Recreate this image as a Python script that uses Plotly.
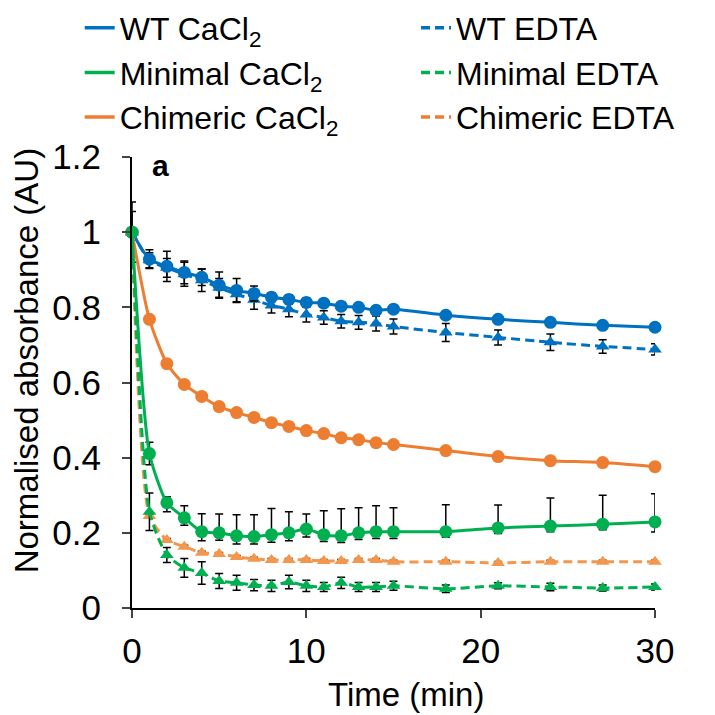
import plotly.graph_objects as go

# time points (min)
time_min = [0, 1, 2, 3, 4, 5, 6, 7, 8, 9, 10, 11, 12, 13, 14, 15, 18, 21, 24, 27, 30]

wt_cacl2 = [1.0, 0.928, 0.909, 0.893, 0.88, 0.859, 0.845, 0.837, 0.827, 0.821, 0.813,
            0.811, 0.803, 0.80, 0.792, 0.795, 0.779, 0.768, 0.76, 0.752, 0.747]
wt_cacl2_err = [0.0, 0.025, 0.04, 0.03, 0.022, 0.035, 0.032, 0.02, 0.012, 0.012, 0.012,
                0.01, 0.01, 0.01, 0.01, 0.01, 0.008, 0.008, 0.008, 0.006, 0.006]

wt_edta = [1.0, 0.925, 0.905, 0.888, 0.872, 0.852, 0.835, 0.82, 0.805, 0.795, 0.781,
           0.773, 0.763, 0.76, 0.757, 0.749, 0.733, 0.72, 0.707, 0.696, 0.688]
wt_edta_err = [0.08, 0.02, 0.025, 0.032, 0.03, 0.025, 0.02, 0.025, 0.02, 0.02, 0.02,
               0.018, 0.018, 0.018, 0.02, 0.02, 0.024, 0.02, 0.022, 0.018, 0.015]

min_cacl2 = [1.0, 0.411, 0.28, 0.24, 0.203, 0.2, 0.192, 0.19, 0.195, 0.2, 0.21,
             0.195, 0.192, 0.2, 0.203, 0.203, 0.203, 0.213, 0.218, 0.223, 0.229]
min_cacl2_up = [0.055, 0.03, 0.016, 0.032, 0.048, 0.05, 0.056, 0.058, 0.07, 0.056, 0.04,
                0.064, 0.072, 0.067, 0.069, 0.064, 0.072, 0.061, 0.075, 0.077, 0.075]
min_cacl2_dn = [0.0, 0.03, 0.024, 0.02, 0.024, 0.02, 0.022, 0.02, 0.02, 0.021, 0.021,
                0.018, 0.018, 0.018, 0.018, 0.018, 0.015, 0.015, 0.015, 0.015, 0.027]

min_edta = [1.0, 0.256, 0.141, 0.107, 0.093, 0.072, 0.067, 0.061, 0.059, 0.069, 0.059,
            0.056, 0.067, 0.056, 0.056, 0.059, 0.051, 0.059, 0.056, 0.053, 0.056]
min_edta_err = [0.0, 0.05, 0.02, 0.025, 0.03, 0.02, 0.02, 0.015, 0.015, 0.018, 0.015,
                0.012, 0.015, 0.012, 0.012, 0.012, 0.01, 0.008, 0.01, 0.008, 0.008]

chim_cacl2 = [1.0, 0.768, 0.65, 0.595, 0.563, 0.536, 0.52, 0.507, 0.493, 0.483, 0.472,
              0.464, 0.453, 0.448, 0.44, 0.435, 0.419, 0.403, 0.392, 0.387, 0.376]
chim_cacl2_err = [0.0] + [0.004] * 20

chim_edta = [1.0, 0.245, 0.181, 0.163, 0.147, 0.144, 0.136, 0.131, 0.128, 0.128, 0.128,
             0.125, 0.125, 0.128, 0.128, 0.123, 0.123, 0.12, 0.123, 0.123, 0.123]
chim_edta_err = [0.0] + [0.004] * 20

BLUE = "#0070C0"
GREEN = "#00B050"
ORANGE = "#ED7D31"
LIGHT_ORANGE = "#F4964B"
FONT = "Liberation Sans, Arial, sans-serif"
DASH = "9px,5px"


def err(plus, minus=None):
    e = dict(type="data", array=plus, color="black", thickness=1.5, width=4, visible=True)
    if minus is not None:
        e.update(symmetric=False, arrayminus=minus)
    return e


def series(y, color, symbol, dash, error):
    return go.Scatter(
        x=time_min, y=y, mode="lines+markers", showlegend=False, cliponaxis=False,
        line=dict(color=color, width=3, dash=dash, shape="spline", smoothing=0.6),
        marker=dict(color=color, symbol=symbol, size=13 if symbol == "circle" else 12),
        error_y=error,
    )


fig = go.Figure()
# EDTA series first, CaCl2 on top
fig.add_trace(series(wt_edta, BLUE, "triangle-up", DASH, err(wt_edta_err)))
fig.add_trace(series(chim_edta, LIGHT_ORANGE, "triangle-up", DASH, err(chim_edta_err)))
fig.add_trace(series(min_edta, GREEN, "triangle-up", DASH, err(min_edta_err)))
fig.add_trace(series(wt_cacl2, BLUE, "circle", "solid", err(wt_cacl2_err)))
fig.add_trace(series(chim_cacl2, ORANGE, "circle", "solid", err(chim_cacl2_err)))
fig.add_trace(series(min_cacl2, GREEN, "circle", "solid", err(min_cacl2_up, min_cacl2_dn)))

# legend entries (lines only); a single point in "lines" mode draws nothing on the axes
legend_items = [
    ("WT CaCl<sub>2</sub>", BLUE, "solid", "legend"),
    ("Minimal CaCl<sub>2</sub>", GREEN, "solid", "legend"),
    ("Chimeric CaCl<sub>2</sub>", ORANGE, "solid", "legend"),
    ("WT EDTA", BLUE, DASH, "legend2"),
    ("Minimal EDTA", GREEN, DASH, "legend2"),
    ("Chimeric EDTA", ORANGE, DASH, "legend2"),
]
for name, color, dash, leg in legend_items:
    fig.add_trace(go.Scatter(
        x=[time_min[0]], y=[wt_cacl2[0]], mode="lines", name=name, legend=leg,
        line=dict(color=color, width=3.5, dash=dash), hoverinfo="skip",
    ))

legend_style = dict(
    yanchor="top", y=1.347, xanchor="left",
    bgcolor="rgba(0,0,0,0)", font=dict(family=FONT, size=32, color="black"),
    tracegroupgap=0, itemwidth=30,
)

# the page body adds an 8px offset, so margins are shifted by that amount
fig.update_layout(
    width=715, height=715,
    margin=dict(l=124, r=68, t=149, b=115, autoexpand=False),
    paper_bgcolor="white", plot_bgcolor="white",
    font=dict(family=FONT, size=34, color="black"),
    legend=dict(x=-0.1, **legend_style),
    legend2=dict(x=0.543, **legend_style),
    xaxis=dict(
        range=[0, 30], tickvals=[0, 10, 20, 30], ticks="outside", ticklen=8,
        tickwidth=2, showline=True, linewidth=2, linecolor="black",
        showgrid=False, zeroline=False, tickfont=dict(size=35),
        ticklabelstandoff=3,
    ),
    yaxis=dict(
        range=[0, 1.2], tickvals=[0, 0.2, 0.4, 0.6, 0.8, 1.0, 1.2],
        ticktext=["0", "0.2", "0.4", "0.6", "0.8", "1", "1.2"],
        ticks="outside", ticklen=8,
        tickwidth=2, showline=True, linewidth=2, linecolor="black",
        showgrid=False, zeroline=False, tickfont=dict(size=35),
        ticklabelstandoff=14,
    ),
    annotations=[
        dict(text="Time (min)", xref="paper", yref="paper", x=0.524, y=-0.1907,
             xanchor="center", yanchor="middle", showarrow=False,
             font=dict(family=FONT, size=33)),
        dict(text="Normalised absorbance (AU)", xref="paper", yref="paper",
             x=-0.2, y=0.55, xanchor="center", yanchor="middle", textangle=-90,
             showarrow=False, font=dict(family=FONT, size=33)),
        dict(text="<b>a</b>", xref="paper", yref="paper", x=0.054, y=0.982,
             xanchor="center", yanchor="middle", showarrow=False,
             font=dict(family=FONT, size=30, weight="bold")),
    ],
)

fig.write_html("out.html")
